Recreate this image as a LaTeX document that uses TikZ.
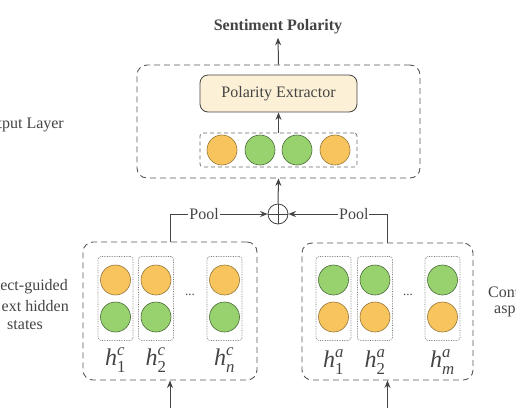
\documentclass[tikz,border=0pt]{standalone}
\usepackage{amsmath}
\usepackage{fontspec}
\setmainfont{Liberation Serif}
\usetikzlibrary{arrows.meta,positioning}

\definecolor{orangec}{HTML}{F8C45E}
\definecolor{greenc}{HTML}{97D26F}
\definecolor{creamc}{HTML}{FCF1D6}
\definecolor{linec}{HTML}{444444}

\newcommand{\hvec}[2]{$\text{\itshape h}^{\text{\itshape #1}}_{\text{#2}}$}

\begin{document}
\begin{tikzpicture}[x=1pt, y=-1pt, >={Stealth[length=7.5pt,width=6pt]},
  every node/.style={font=\fontsize{16}{19}\selectfont, text=linec},
  outbox/.style={draw=linec!90, dashed, dash pattern=on 6pt off 4pt, line width=0.9pt, rounded corners=10pt},
  rowbox/.style={draw=linec!80, dashed, dash pattern=on 4pt off 3pt, line width=0.7pt, rounded corners=3pt},
  colbox/.style={draw=linec!70, densely dotted, line width=0.7pt, rounded corners=3pt, minimum width=35, minimum height=84},
  ycirc/.style={circle, draw=orangec!60!black, fill=orangec, minimum size=30, inner sep=0pt, line width=0.6pt},
  gcirc/.style={circle, draw=greenc!50!black, fill=greenc, minimum size=30, inner sep=0pt, line width=0.6pt},
  hlab/.style={font=\fontsize{24}{24}\selectfont},
  arr/.style={->, draw=linec, line width=1pt}]
\useasboundingbox (0,0) rectangle (516,408);

% output layer
\node[font=\fontsize{16}{19}\selectfont\bfseries] (sp) at (278,27) {Sentiment Polarity};
\node[outbox, minimum width=283, minimum height=113] (out) at (278.5,121.5) {};
\node[draw=linec, fill=creamc, rounded corners=8pt, line width=0.8pt, minimum width=157, minimum height=37] (pe) at (278.5,93.5) {Polarity Extractor};
\node[rowbox, minimum width=157, minimum height=34] (row) at (278.5,150) {};
\foreach \x/\s [count=\i] in {222/ycirc, 260/gcirc, 297/gcirc, 335/ycirc}
  \node[\s] (o\i) at (\x,150) {};
\node[anchor=east, inner sep=0pt] (ol) at (64,125) {tput Layer};
\draw[arr] (row.north) -- (pe.south);
\draw[arr] (out.north) -- (sp.south);

% pooling and sum
\node[circle, draw=linec, line width=0.8pt, minimum size=20, inner sep=0pt] (sum) at (278,214) {};
\draw[linec, line width=0.8pt] (sum.north) -- (sum.south) (sum.west) -- (sum.east);
\draw[arr] (sum.north) -- (out.south);

% context hidden states
\node[outbox, minimum width=174, minimum height=138] (lctx) at (170,311) {};
\foreach \x/\l [count=\i] in {115.5/1, 156/2, 224.5/\itshape n} {
  \node[colbox] (lc\i) at (\x,298.5) {};
  \node[ycirc] (lu\i) at (\x,280) {};
  \node[gcirc] (ld\i) at (\x,317) {};
  \node[hlab] (lh\i) at (\x,360) {\hvec{c}{\l}};
}
\node[font=\fontsize{13}{13}\selectfont] (ldots) at (190,295) {...};
\node[anchor=east, inner sep=0pt] (lt1) at (68,287) {ect-guided};
\node[anchor=east, inner sep=0pt] (lt2) at (69,306) {ext hidden};
\node[inner sep=0pt] (lt3) at (25,325) {states};

% aspect hidden states
\node[outbox, minimum width=171, minimum height=137] (rasp) at (387.5,311.5) {};
\foreach \x/\l [count=\i] in {333.5/1, 375/2, 442.5/\itshape m} {
  \node[colbox] (rc\i) at (\x,298.5) {};
  \node[gcirc] (ru\i) at (\x,280) {};
  \node[ycirc] (rd\i) at (\x,317) {};
  \node[hlab] (rh\i) at (\x,362) {\hvec{a}{\l}};
}
\node[font=\fontsize{13}{13}\selectfont] (rdots) at (408,295) {...};
\node[anchor=west, inner sep=0pt] (rt1) at (488,292) {Cont};
\node[anchor=west, inner sep=0pt] (rt2) at (494,311) {asp};

\draw[arr] (lctx.north) |- node[pos=0.675, fill=white, inner sep=1pt] (lp) {Pool} (sum.west);
\draw[arr] (rasp.north) |- node[pos=0.67, fill=white, inner sep=1pt] (rp) {Pool} (sum.east);

% inputs
\coordinate (lin) at (170,408);
\coordinate (rin) at (387.5,408);
\draw[arr] (lin) -- (lctx.south);
\draw[arr] (rin) -- (rasp.south);
\end{tikzpicture}
\end{document}
